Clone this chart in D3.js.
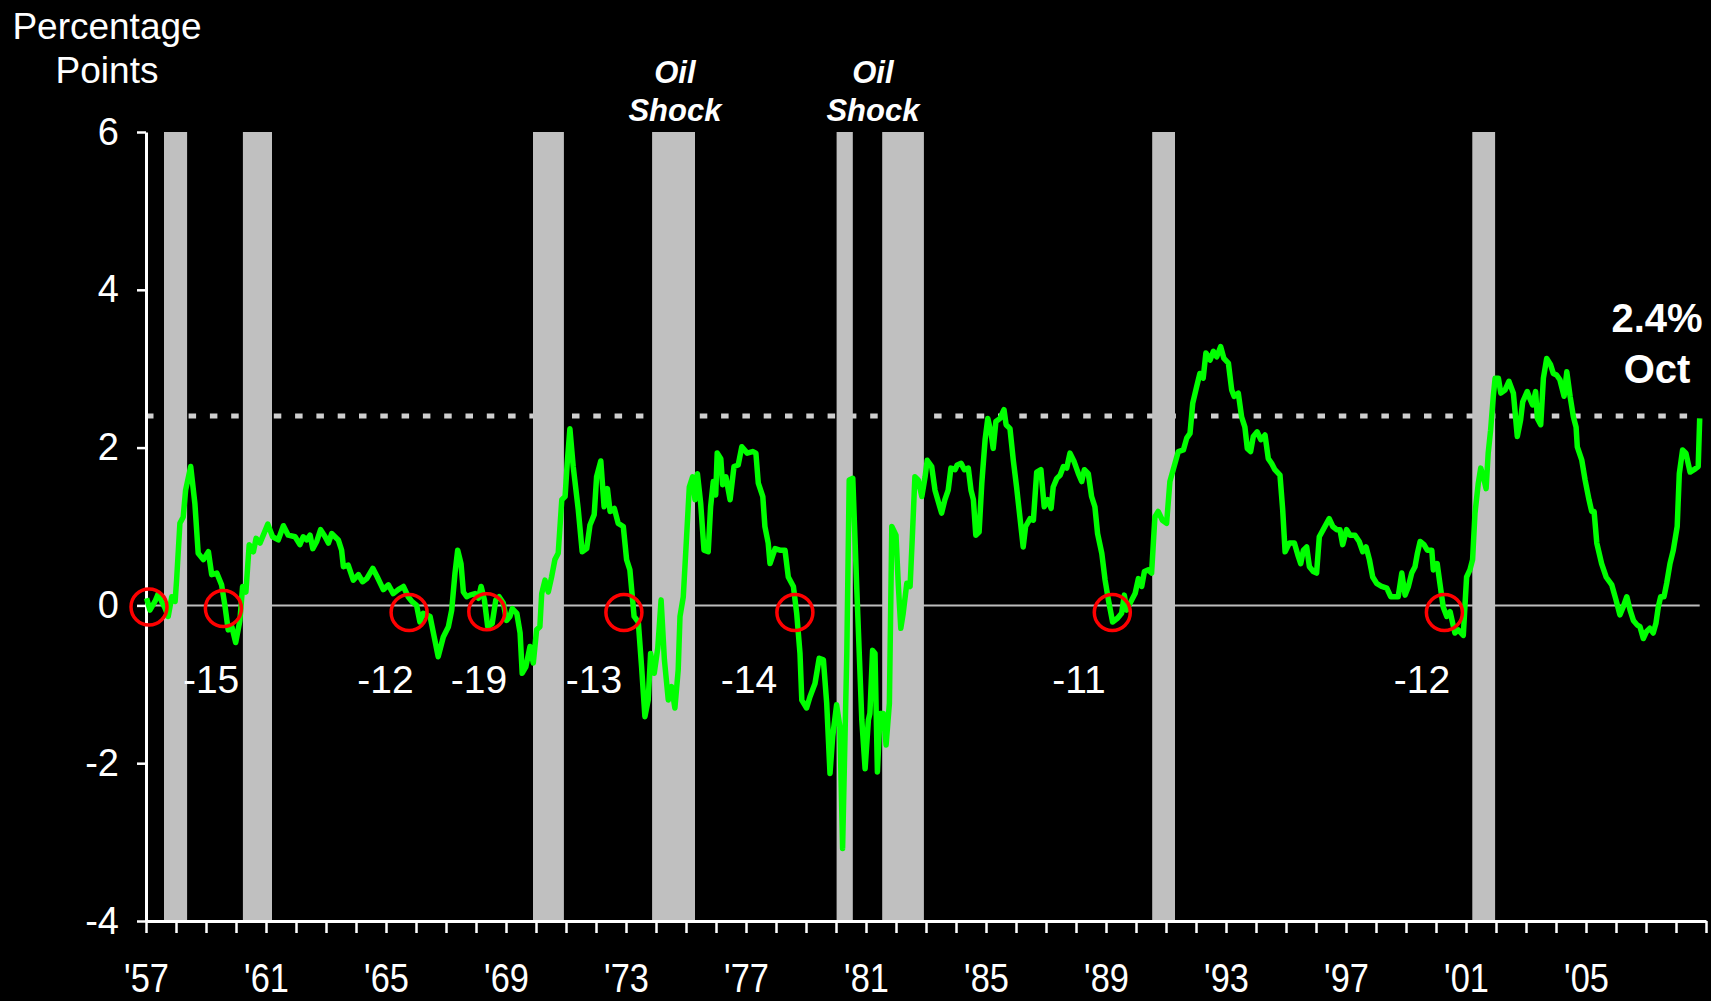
<!DOCTYPE html>
<html>
<head>
<meta charset="utf-8">
<script src="https://cdn.jsdelivr.net/npm/d3@7"></script>
<style>
  body { margin: 0; background: #000; }
  svg { display: block; }
</style>
</head>
<body>
<div id="chart"></div>
<script>
// yield curve spread, monthly readings (decimal year)
const dates = [
  1957.02, 1957.13, 1957.30, 1957.41, 1957.52, 1957.63, 1957.74, 1957.86, 1957.97, 1958.02,
  1958.13, 1958.24, 1958.32, 1958.49, 1958.63, 1958.74, 1958.91, 1959.08, 1959.19, 1959.36,
  1959.52, 1959.63, 1959.74, 1959.86, 1959.99, 1960.13, 1960.22, 1960.33, 1960.44, 1960.58,
  1960.67, 1960.80, 1960.91, 1961.06, 1961.22, 1961.41, 1961.58, 1961.74, 1961.97, 1962.13,
  1962.24, 1962.36, 1962.47, 1962.56, 1962.69, 1962.82, 1962.97, 1963.08, 1963.19, 1963.41,
  1963.52, 1963.58, 1963.74, 1963.91, 1964.08, 1964.22, 1964.36, 1964.56, 1964.71, 1964.91,
  1965.08, 1965.24, 1965.41, 1965.58, 1965.74,
  1965.86, 1966.02, 1966.13, 1966.24, 1966.47, 1966.74, 1966.91, 1967.08, 1967.19, 1967.30,
  1967.39, 1967.50, 1967.58, 1967.69, 1967.80, 1967.97, 1968.08, 1968.17, 1968.28, 1968.39,
  1968.54, 1968.66, 1968.77, 1968.91, 1969.02, 1969.13, 1969.21, 1969.36, 1969.47, 1969.54,
  1969.66, 1969.80, 1969.91, 1970.02, 1970.13, 1970.19, 1970.30, 1970.41, 1970.52, 1970.63,
  1970.74, 1970.86, 1970.97, 1971.04, 1971.13, 1971.24, 1971.41, 1971.54, 1971.69, 1971.80,
  1971.94, 1972.02, 1972.16, 1972.27, 1972.38, 1972.47, 1972.61, 1972.74, 1972.91, 1973.02,
  1973.13, 1973.22, 1973.27, 1973.41, 1973.52, 1973.63, 1973.74, 1973.82, 1973.94, 1974.06,
  1974.17, 1974.28, 1974.41,
  1974.52, 1974.63, 1974.74, 1974.80, 1974.91, 1975.02, 1975.11, 1975.22, 1975.30, 1975.38,
  1975.49, 1975.60, 1975.74, 1975.82, 1975.91, 1975.99, 1976.04, 1976.16, 1976.22, 1976.33,
  1976.47, 1976.60, 1976.74, 1976.86, 1977.04, 1977.22, 1977.33, 1977.41, 1977.56, 1977.63,
  1977.74, 1977.80, 1977.97, 1978.13, 1978.30, 1978.41, 1978.58, 1978.69, 1978.80, 1978.86,
  1979.02, 1979.13, 1979.30, 1979.44, 1979.58, 1979.69, 1979.80, 1979.89, 1980.02, 1980.13,
  1980.22, 1980.36, 1980.44, 1980.56, 1980.69, 1980.86, 1980.97, 1981.08, 1981.13, 1981.22,
  1981.30, 1981.38, 1981.47, 1981.58, 1981.67, 1981.78, 1981.86, 1982.00, 1982.08, 1982.16,
  1982.24, 1982.36, 1982.47, 1982.54, 1982.63, 1982.74, 1982.86, 1982.97, 1983.04, 1983.19,
  1983.30, 1983.52, 1983.63, 1983.74, 1983.83, 1983.97, 1984.04, 1984.17, 1984.28, 1984.41,
  1984.50, 1984.58, 1984.66, 1984.77, 1984.86, 1984.97, 1985.06, 1985.17, 1985.24, 1985.33,
  1985.47, 1985.60, 1985.67, 1985.80, 1985.91, 1986.02, 1986.13, 1986.24, 1986.32, 1986.47,
  1986.58, 1986.69, 1986.83, 1986.94, 1987.06, 1987.17, 1987.24, 1987.36, 1987.47, 1987.58,
  1987.69, 1987.80, 1987.94, 1988.08, 1988.19, 1988.28, 1988.41, 1988.52, 1988.63, 1988.72,
  1988.86, 1988.97, 1989.08, 1989.22, 1989.39, 1989.52, 1989.61, 1989.69, 1989.86, 1989.97,
  1990.08, 1990.19, 1990.28, 1990.41, 1990.52, 1990.63, 1990.74, 1990.88, 1991.02, 1991.13,
  1991.24, 1991.41, 1991.58, 1991.69, 1991.80, 1991.89, 1992.02,
  1992.13, 1992.24, 1992.33, 1992.47, 1992.58, 1992.69, 1992.82, 1992.93, 1993.08, 1993.19,
  1993.27, 1993.41, 1993.52, 1993.63, 1993.71, 1993.82, 1993.91, 1994.04, 1994.16, 1994.30,
  1994.41, 1994.52, 1994.63, 1994.80, 1994.89, 1994.97, 1995.11, 1995.28, 1995.41, 1995.49,
  1995.58, 1995.69, 1995.78, 1995.91, 1996.02, 1996.11, 1996.24, 1996.44, 1996.56, 1996.69,
  1996.80, 1996.89, 1997.02, 1997.13, 1997.30, 1997.44, 1997.56, 1997.67, 1997.78, 1997.89,
  1998.02, 1998.19, 1998.36, 1998.49, 1998.63, 1998.74, 1998.86, 1998.97, 1999.08, 1999.19,
  1999.30, 1999.38, 1999.47, 1999.60, 1999.71, 1999.86, 1999.91, 2000.04, 2000.13,
  2000.24, 2000.36, 2000.47, 2000.63, 2000.74, 2000.91, 2001.02, 2001.13, 2001.22, 2001.30,
  2001.41, 2001.49, 2001.58, 2001.67, 2001.74, 2001.82, 2001.91, 2001.97, 2002.08, 2002.16,
  2002.30, 2002.43, 2002.58, 2002.71, 2002.82, 2002.89, 2003.04, 2003.13, 2003.22, 2003.32,
  2003.38, 2003.49, 2003.58, 2003.69, 2003.82, 2003.91, 2004.02, 2004.13, 2004.27, 2004.36,
  2004.47, 2004.58, 2004.67, 2004.71, 2004.86, 2004.97, 2005.10, 2005.19, 2005.27, 2005.36,
  2005.52, 2005.67, 2005.86, 2006.00, 2006.13, 2006.24, 2006.36, 2006.47, 2006.58, 2006.71,
  2006.80, 2006.91, 2007.02, 2007.13, 2007.24, 2007.33, 2007.41, 2007.49, 2007.60, 2007.69,
  2007.80, 2007.91, 2008.04, 2008.11, 2008.22, 2008.33, 2008.47, 2008.60, 2008.74, 2008.79
];

const spread = [
  0.09, -0.06, 0.05, 0.15, 0.05, -0.03, -0.14, 0.11, 0.05, 0.32,
  1.04, 1.12, 1.46, 1.76, 1.29, 0.66, 0.58, 0.68, 0.39, 0.41,
  0.26, 0.00, -0.31, -0.27, -0.47, -0.19, 0.24, 0.17, 0.77, 0.68,
  0.85, 0.79, 0.89, 1.03, 0.87, 0.83, 1.01, 0.89, 0.87, 0.77,
  0.87, 0.83, 0.89, 0.72, 0.81, 0.96, 0.87, 0.79, 0.91, 0.83,
  0.70, 0.49, 0.51, 0.32, 0.39, 0.30, 0.34, 0.47, 0.36, 0.20,
  0.26, 0.15, 0.20, 0.24, 0.11,
  0.05, 0.00, -0.21, -0.10, -0.14, -0.65, -0.40, -0.27, -0.06, 0.41,
  0.70, 0.53, 0.17, 0.11, 0.13, 0.15, 0.09, 0.24, 0.07, -0.27,
  -0.23, 0.07, 0.11, 0.03, -0.19, -0.14, -0.04, -0.10, -0.35, -0.86,
  -0.78, -0.52, -0.73, -0.31, -0.27, 0.15, 0.32, 0.17, 0.36, 0.58,
  0.66, 1.34, 1.38, 1.80, 2.24, 1.76, 1.21, 0.68, 0.72, 1.02,
  1.15, 1.63, 1.83, 1.25, 1.48, 1.19, 1.23, 1.04, 1.00, 0.58,
  0.45, 0.07, -0.14, -0.21, -0.78, -1.41, -1.20, -0.61, -0.86, -0.54,
  0.07, -0.69, -1.20,
  -1.03, -1.30, -0.82, -0.14, 0.11, 0.87, 1.50, 1.63, 1.34, 1.67,
  1.29, 0.70, 0.68, 1.25, 1.57, 1.40, 1.93, 1.86, 1.53, 1.63,
  1.34, 1.76, 1.78, 2.01, 1.93, 1.95, 1.93, 1.55, 1.38, 1.00,
  0.79, 0.53, 0.72, 0.70, 0.70, 0.36, 0.24, -0.10, -0.61, -1.20,
  -1.30, -1.16, -0.99, -0.67, -0.69, -1.24, -2.13, -1.66, -1.26, -1.54,
  -3.08, -0.61, 1.59, 1.61, 0.24, -1.45, -2.07, -1.45, -1.37, -0.57,
  -0.61, -2.11, -1.37, -1.37, -1.77, -1.24, 1.00, 0.89, 0.24, -0.29,
  -0.10, 0.28, 0.24, 0.83, 1.63, 1.59, 1.38, 1.63, 1.84, 1.76,
  1.46, 1.17, 1.34, 1.46, 1.74, 1.72, 1.78, 1.80, 1.72, 1.74,
  1.46, 1.34, 0.89, 0.93, 1.55, 2.10, 2.37, 2.18, 1.99, 2.33,
  2.37, 2.48, 2.29, 2.24, 1.84, 1.50, 1.12, 0.74, 1.00, 1.10,
  1.08, 1.69, 1.72, 1.25, 1.34, 1.23, 1.50, 1.61, 1.65, 1.76,
  1.74, 1.93, 1.82, 1.67, 1.57, 1.72, 1.67, 1.38, 1.25, 0.91,
  0.66, 0.32, 0.07, -0.21, -0.16, -0.10, 0.13, -0.06, 0.07, 0.15,
  0.34, 0.24, 0.43, 0.45, 0.41, 1.12, 1.19, 1.08, 1.04, 1.57,
  1.72, 1.95, 1.97, 2.12, 2.18, 2.56, 2.77,
  2.94, 2.88, 3.20, 3.11, 3.22, 3.15, 3.28, 3.13, 3.07, 2.73,
  2.65, 2.69, 2.39, 2.26, 1.99, 1.95, 2.14, 2.20, 2.10, 2.16,
  1.86, 1.80, 1.72, 1.65, 1.21, 0.68, 0.79, 0.79, 0.62, 0.53,
  0.70, 0.74, 0.49, 0.43, 0.41, 0.87, 0.96, 1.10, 1.00, 0.96,
  0.96, 0.77, 0.96, 0.89, 0.89, 0.81, 0.68, 0.74, 0.58, 0.36,
  0.28, 0.24, 0.22, 0.11, 0.11, 0.11, 0.41, 0.13, 0.24, 0.41,
  0.49, 0.66, 0.81, 0.77, 0.70, 0.70, 0.45, 0.53, 0.28,
  -0.02, -0.14, -0.08, -0.35, -0.31, -0.38, 0.36, 0.45, 0.58, 1.17,
  1.55, 1.74, 1.63, 1.48, 1.93, 2.22, 2.65, 2.88, 2.88, 2.69,
  2.73, 2.84, 2.69, 2.14, 2.35, 2.58, 2.71, 2.62, 2.54, 2.71,
  2.37, 2.29, 2.88, 3.13, 3.05, 2.94, 2.92, 2.86, 2.65, 2.96,
  2.65, 2.39, 2.26, 2.01, 1.84, 1.59, 1.34, 1.19, 1.19, 0.79,
  0.53, 0.36, 0.26, 0.07, -0.12, -0.02, 0.11, -0.06, -0.19, -0.25,
  -0.27, -0.42, -0.33, -0.29, -0.35, -0.23, -0.02, 0.11, 0.11, 0.28,
  0.53, 0.70, 1.00, 1.67, 1.97, 1.93, 1.69, 1.72, 1.76, 2.37
];

// recessions (shaded)
const recessionStart = [1957.60, 1960.23, 1969.90, 1973.87, 1980.02, 1981.54, 1990.54, 2001.21];
const recessionEnd   = [1958.37, 1961.20, 1970.93, 1975.30, 1980.56, 1982.93, 1991.30, 2001.97];

// inversions marked with red circles
const signalDates  = [1957.10, 1959.58, 1965.77, 1968.36, 1972.93, 1978.63, 1989.21, 2000.28];
const signalValues = [-0.02, -0.04, -0.09, -0.08, -0.09, -0.09, -0.09, -0.09];

// months of lead
const leadDates  = [1959.17, 1964.98, 1968.10, 1971.93, 1977.10, 1988.10, 1999.53];
const leadLabels = ["-15", "-12", "-19", "-13", "-14", "-11", "-12"];

const oilShockDates = [1974.63, 1981.23];

const yTicks = [-4, -2, 0, 2, 4, 6];
const xTickYears = d3.range(1957, 2010);
const lastValue = 2.4;
const lastLabel = ["2.4%", "Oct"];

const width = 1711;
const height = 1001;
const fontMain = "'Liberation Sans', Arial, sans-serif";

const svg = d3.select("#chart")
  .append("svg")
  .attr("width", width)
  .attr("height", height)
  .style("background", "#000");

const x = d3.scaleLinear().domain([1957, 2009]).range([146, 1706]);
const y = d3.scaleLinear().domain([-4, 6]).range([921, 132]);

// zero line
svg.append("line")
  .attr("x1", x(1957)).attr("x2", x(2008.79))
  .attr("y1", y(0)).attr("y2", y(0))
  .attr("stroke", "#bdbdbd")
  .attr("stroke-width", 2);

// current level dashed line
svg.append("line")
  .attr("x1", x(1957)).attr("x2", x(2008.79))
  .attr("y1", y(lastValue)).attr("y2", y(lastValue))
  .attr("stroke", "#cfcfcf")
  .attr("stroke-width", 5)
  .attr("stroke-dasharray", "7.5,13.8");

// recession bars
svg.selectAll(".rec")
  .data(recessionStart)
  .enter()
  .append("rect")
  .attr("class", "rec")
  .attr("x", d => x(d))
  .attr("y", y(6))
  .attr("width", (d, i) => x(recessionEnd[i]) - x(d))
  .attr("height", y(-4) - y(6))
  .attr("fill", "#c0c0c0");

// axes
const yAxis = svg.append("g")
  .attr("transform", `translate(${x(1957)},0)`)
  .call(d3.axisLeft(y)
    .tickValues(yTicks)
    .tickSize(9)
    .tickSizeOuter(0)
    .tickPadding(18)
    .tickFormat(d => String(d)));

yAxis.select(".domain").attr("stroke", "#fff").attr("stroke-width", 3);
yAxis.selectAll(".tick line").attr("stroke", "#fff").attr("stroke-width", 2.5);
yAxis.selectAll(".tick text")
  .attr("fill", "#fff")
  .style("font-family", fontMain)
  .style("font-size", "38px");

const xAxis = svg.append("g")
  .attr("transform", `translate(0,${y(-4)})`)
  .call(d3.axisBottom(x)
    .tickValues(xTickYears)
    .tickSize(12)
    .tickSizeOuter(0)
    .tickPadding(31)
    .tickFormat(d => ((d - 1957) % 4 === 0 && d <= 2005) ? "'" + String(d).slice(2) : ""));

xAxis.select(".domain").attr("stroke", "#fff").attr("stroke-width", 3);
xAxis.selectAll(".tick line").attr("stroke", "#fff").attr("stroke-width", 2.5);
xAxis.selectAll(".tick text")
  .attr("fill", "#fff")
  .attr("transform", "scale(0.86,1)")
  .style("font-family", fontMain)
  .style("font-size", "40px");

// spread line
const points = dates.map((d, i) => [d, spread[i]]);

svg.append("path")
  .datum(points)
  .attr("fill", "none")
  .attr("stroke", "#00ff00")
  .attr("stroke-width", 5.5)
  .attr("stroke-linejoin", "round")
  .attr("d", d3.line().x(d => x(d[0])).y(d => y(d[1])));

// red circles
svg.selectAll(".signal")
  .data(signalDates)
  .enter()
  .append("circle")
  .attr("class", "signal")
  .attr("cx", d => x(d))
  .attr("cy", (d, i) => y(signalValues[i]))
  .attr("r", 18)
  .attr("fill", "none")
  .attr("stroke", "#ff0000")
  .attr("stroke-width", 3.5);

// lead labels
svg.selectAll(".lead")
  .data(leadDates)
  .enter()
  .append("text")
  .attr("class", "lead")
  .attr("x", d => x(d))
  .attr("y", y(-1.11))
  .attr("text-anchor", "middle")
  .style("font-family", fontMain)
  .style("font-size", "39px")
  .style("fill", "#fff")
  .text((d, i) => leadLabels[i]);

// oil shock labels
oilShockDates.forEach(d => {
  const t = svg.append("text")
    .attr("text-anchor", "middle")
    .style("font-family", fontMain)
    .style("font-size", "31px")
    .style("font-weight", "bold")
    .style("font-style", "italic")
    .style("fill", "#fff");
  t.append("tspan").attr("x", x(d)).attr("y", 83).text("Oil");
  t.append("tspan").attr("x", x(d)).attr("y", 121).text("Shock");
});

// y title
const title = svg.append("text")
  .attr("text-anchor", "middle")
  .style("font-family", fontMain)
  .style("font-size", "37px")
  .style("fill", "#fff");
title.append("tspan").attr("x", 107).attr("y", 39).text("Percentage");
title.append("tspan").attr("x", 107).attr("y", 83).text("Points");

// latest value
const latest = svg.append("text")
  .attr("text-anchor", "middle")
  .style("font-family", fontMain)
  .style("font-size", "40px")
  .style("font-weight", "bold")
  .style("fill", "#fff");
latest.append("tspan").attr("x", 1657).attr("y", 332).text(lastLabel[0]);
latest.append("tspan").attr("x", 1657).attr("y", 383).text(lastLabel[1]);
</script>
</body>
</html>
